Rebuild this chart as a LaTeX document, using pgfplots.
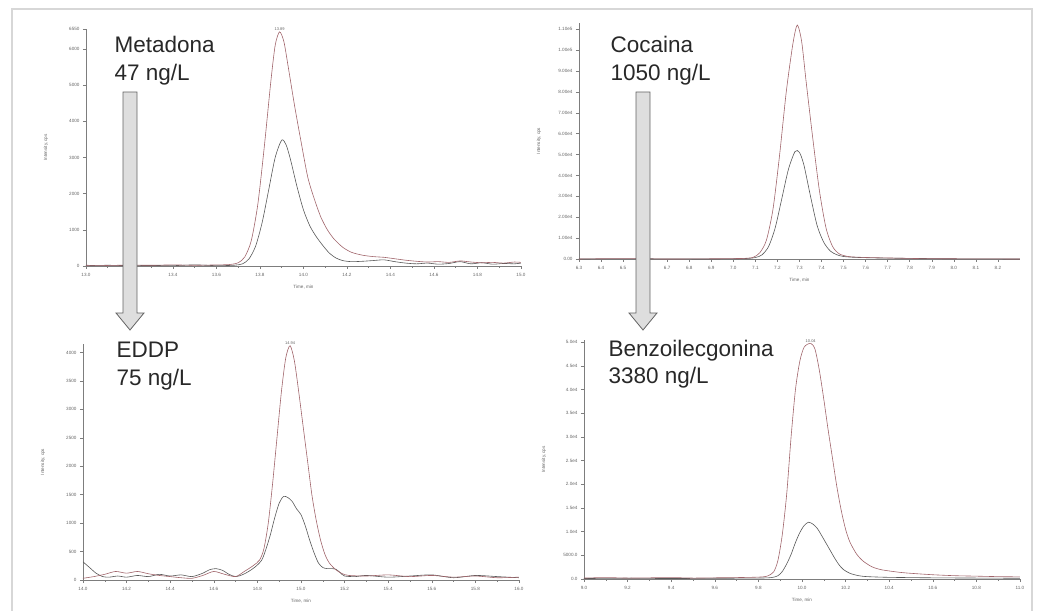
\documentclass[border=0pt]{standalone}
\usepackage{fontspec}
\setmainfont{Liberation Sans}
\usepackage{pgfplots}
\pgfplotsset{compat=1.18}

\definecolor{trred}{RGB}{160,100,106}
\definecolor{trgray}{RGB}{88,88,88}
\definecolor{axgray}{RGB}{125,125,125}
\definecolor{lblgray}{RGB}{100,100,100}
\definecolor{framegray}{RGB}{215,215,215}
\definecolor{arrowfill}{RGB}{222,222,222}
\definecolor{arrowline}{RGB}{100,100,100}
\definecolor{txt}{RGB}{40,40,40}

\pgfplotsset{
  chrom/.style={
    scale only axis,
    anchor=south west,
    axis lines=left,
    axis line style={-, draw=axgray, line width=0.8pt},
    tick style={draw=axgray, line width=0.5pt},
    tick align=outside,
    major tick length=3pt,
    minor tick length=1.6pt,
    scaled y ticks=false,
    scaled x ticks=false,
    tick label style={font=\fontsize{4.6}{5}\selectfont, text=lblgray},
    xticklabel style={yshift=-0.5pt},
    ymin=0,
    clip=false,
    every axis x label/.style={at={(axis description cs:0.5,0)}, yshift=-21pt,
      anchor=center, font=\fontsize{4.6}{5}\selectfont, text=lblgray},
    every axis y label/.style={at={(axis description cs:0,0.5)}, xshift=-40pt,
      rotate=90, anchor=center, font=\fontsize{4.6}{5}\selectfont, text=lblgray},
    xlabel={Time, min},
    ylabel={Intensity, cps},
    every axis plot/.append style={line width=0.6pt, smooth, tension=0.45},
  },
}
\tikzset{peaklbl/.style={font=\fontsize{4}{5}\selectfont, text=lblgray, anchor=south, inner sep=1pt}}

\newcommand{\drug}[3]{%
  \node[anchor=base west, text=txt, font=\fontsize{22.5}{27}\selectfont] at (#1,#2) {#3};}

\begin{document}
\begin{tikzpicture}
\useasboundingbox (0pt,0pt) rectangle (1040pt,610pt);
% slide frame
\draw[framegray, line width=1.5pt] (12pt,-5pt) -- (12pt,601pt) -- (1032pt,601pt) -- (1032pt,-5pt);

% ---------------- Metadona ----------------
\begin{axis}[chrom, at={(86pt,344pt)}, width=435pt, height=237pt,
  xmin=13.0, xmax=15.0, ymax=6550,
  xtick={13,13.2,13.4,13.6,13.8,14,14.2,14.4,14.6,14.8,15},
  xticklabels={13.0,13.2,13.4,13.6,13.8,14.0,14.2,14.4,14.6,14.8,15.0},
  minor x tick num=1,
  ytick={0,1000,2000,3000,4000,5000,6000,6550},
  yticklabels={0,1000,2000,3000,4000,5000,6000,6550}]
\addplot[trgray] coordinates {
 (13.00,10) (13.10,20) (13.20,10) (13.30,15) (13.40,10) (13.50,30) (13.60,10)
 (13.68,20) (13.72,60) (13.75,200) (13.78,550) (13.81,1200) (13.84,2100)
 (13.87,3000) (13.90,3480) (13.92,3350) (13.94,2950) (13.97,2200) (14.00,1550)
 (14.03,1100) (14.06,800) (14.09,560) (14.12,350) (14.15,220) (14.18,150)
 (14.22,120) (14.27,130) (14.32,150) (14.37,170) (14.42,120) (14.47,80)
 (14.52,60) (14.57,80) (14.62,50) (14.67,70) (14.72,120) (14.77,60)
 (14.82,90) (14.87,50) (14.92,70) (14.97,60) (15.00,80)};
\addplot[trred] coordinates {
 (13.00,20) (13.10,15) (13.20,25) (13.30,20) (13.40,30) (13.50,20) (13.60,30)
 (13.66,40) (13.70,90) (13.73,250) (13.76,700) (13.79,1700) (13.82,3300)
 (13.85,5100) (13.87,6100) (13.89,6470) (13.91,6200) (13.93,5500) (13.96,4400)
 (13.99,3400) (14.02,2450) (14.05,1850) (14.08,1350) (14.11,1000) (14.14,750)
 (14.18,520) (14.22,380) (14.27,300) (14.32,260) (14.37,240) (14.42,200)
 (14.47,160) (14.52,130) (14.57,110) (14.62,120) (14.67,100) (14.72,140)
 (14.77,110) (14.82,90) (14.87,100) (14.92,80) (14.97,110) (15.00,100)};
\node[peaklbl] at (axis cs:13.89,6470) {13.89};
\fill[black!80] (axis cs:13.0,2150) ++(-2.5pt,0) circle (1.3pt);
\end{axis}

% ---------------- Cocaina ----------------
\begin{axis}[chrom, at={(579pt,351pt)}, width=441pt, height=236pt,
  xmin=6.3, xmax=8.3, ymax=113000,
  xtick={6.3,6.4,6.5,6.6,6.7,6.8,6.9,7.0,7.1,7.2,7.3,7.4,7.5,7.6,7.7,7.8,7.9,8.0,8.1,8.2},
  xticklabels={6.3,6.4,6.5,6.6,6.7,6.8,6.9,7.0,7.1,7.2,7.3,7.4,7.5,7.6,7.7,7.8,7.9,8.0,8.1,8.2},
  ytick={0,10000,20000,30000,40000,50000,60000,70000,80000,90000,100000,110000},
  yticklabels={0.00,1.00e4,2.00e4,3.00e4,4.00e4,5.00e4,6.00e4,7.00e4,8.00e4,9.00e4,1.00e5,1.10e5}]
\addplot[trgray] coordinates {
 (6.30,0) (6.60,100) (6.90,0) (7.05,200) (7.10,700) (7.13,2000) (7.16,6000)
 (7.19,15000) (7.22,29000) (7.25,43000) (7.28,51500) (7.30,51000) (7.32,45000)
 (7.35,30000) (7.38,16000) (7.41,8000) (7.44,3800) (7.47,2000) (7.50,1200)
 (7.55,800) (7.65,500) (7.80,300) (8.00,100) (8.30,0)};
\addplot[trred] coordinates {
 (6.30,0) (6.50,200) (6.70,0) (6.90,100) (7.00,200) (7.05,300) (7.09,800)
 (7.12,3000) (7.15,9000) (7.18,24000) (7.21,50000) (7.24,80000) (7.27,103000)
 (7.29,112000) (7.31,104000) (7.33,85000) (7.36,58000) (7.39,33000) (7.42,15000)
 (7.45,6000) (7.48,2500) (7.52,1200) (7.58,800) (7.65,600) (7.75,400)
 (7.85,200) (8.00,100) (8.15,50) (8.30,0)};
\fill[black!80] (axis cs:6.3,37000) ++(-2.5pt,0) circle (1.3pt);
\end{axis}

% ---------------- EDDP ----------------
\begin{axis}[chrom, at={(83pt,30pt)}, width=436pt, height=236pt,
  xmin=14.0, xmax=16.0, ymax=4150,
  xtick={14,14.2,14.4,14.6,14.8,15,15.2,15.4,15.6,15.8,16},
  xticklabels={14.0,14.2,14.4,14.6,14.8,15.0,15.2,15.4,15.6,15.8,16.0},
  minor x tick num=1,
  ytick={0,500,1000,1500,2000,2500,3000,3500,4000},
  yticklabels={0,500,1000,1500,2000,2500,3000,3500,4000}]
\addplot[trgray] coordinates {
 (14.00,320) (14.03,220) (14.06,120) (14.09,60) (14.12,50) (14.16,70) (14.20,50)
 (14.25,80) (14.30,60) (14.35,100) (14.40,70) (14.45,90) (14.50,60) (14.55,120)
 (14.58,180) (14.61,200) (14.64,170) (14.67,100) (14.70,60) (14.73,90)
 (14.76,150) (14.79,230) (14.82,350) (14.84,550) (14.86,800) (14.88,1100)
 (14.90,1350) (14.92,1470) (14.94,1450) (14.96,1380) (14.98,1250) (15.00,1150)
 (15.02,950) (15.04,700) (15.06,480) (15.08,300) (15.10,220) (15.12,200)
 (15.14,200) (15.16,190) (15.18,130) (15.20,70) (15.25,60) (15.30,80)
 (15.40,50) (15.50,70) (15.60,90) (15.70,40) (15.80,80) (15.90,60) (16.00,40)};
\addplot[trred] coordinates {
 (14.00,30) (14.05,60) (14.10,100) (14.15,150) (14.20,120) (14.25,150)
 (14.30,110) (14.35,80) (14.40,60) (14.45,40) (14.50,30) (14.55,80) (14.60,150)
 (14.65,100) (14.70,60) (14.74,150) (14.78,250) (14.81,350) (14.83,550)
 (14.85,1000) (14.87,1700) (14.89,2500) (14.91,3300) (14.93,3900) (14.95,4120)
 (14.97,3850) (14.99,3300) (15.01,2700) (15.03,2100) (15.05,1500) (15.07,1050)
 (15.09,700) (15.11,450) (15.13,300) (15.16,180) (15.19,110) (15.22,80)
 (15.30,70) (15.40,90) (15.50,60) (15.60,80) (15.70,50) (15.80,70) (15.90,40)
 (16.00,50)};
\node[peaklbl] at (axis cs:14.95,4120) {14.94};
\fill[black!80] (axis cs:14.0,1550) ++(-2.5pt,0) circle (1.3pt);
\end{axis}

% ---------------- Benzoilecgonina ----------------
\begin{axis}[chrom, at={(584pt,31pt)}, width=436pt, height=239pt,
  xmin=9.0, xmax=11.0, ymax=50500,
  xtick={9,9.2,9.4,9.6,9.8,10,10.2,10.4,10.6,10.8,11},
  xticklabels={9.0,9.2,9.4,9.6,9.8,10.0,10.2,10.4,10.6,10.8,11.0},
  minor x tick num=1,
  ytick={0,5000,10000,15000,20000,25000,30000,35000,40000,45000,50000},
  yticklabels={0.0,5000.0,1.0e4,1.5e4,2.0e4,2.5e4,3.0e4,3.5e4,4.0e4,4.5e4,5.0e4}]
\addplot[trgray] coordinates {
 (9.00,100) (9.20,150) (9.40,100) (9.60,150) (9.80,200) (9.86,300) (9.89,700)
 (9.91,1600) (9.93,3200) (9.95,5200) (9.97,7700) (9.99,9800) (10.01,11300)
 (10.03,12000) (10.05,11600) (10.07,10700) (10.09,9200) (10.11,7600)
 (10.13,6000) (10.15,4400) (10.17,3000) (10.19,2000) (10.22,1200) (10.26,700)
 (10.30,500) (10.40,350) (10.60,250) (10.80,200) (11.00,150)};
\addplot[trred] coordinates {
 (9.00,200) (9.10,300) (9.20,200) (9.30,250) (9.40,300) (9.50,200) (9.60,250)
 (9.70,300) (9.80,400) (9.84,600) (9.87,1500) (9.89,4000) (9.91,9500)
 (9.93,18000) (9.95,30000) (9.97,40000) (9.99,46000) (10.01,49000)
 (10.04,49800) (10.06,48500) (10.08,44000) (10.10,38000) (10.12,31500)
 (10.14,25500) (10.16,19500) (10.18,14500) (10.20,10500) (10.22,7800)
 (10.25,5300) (10.28,3800) (10.32,2600) (10.36,2000) (10.40,1700)
 (10.45,1400) (10.50,1200) (10.60,900) (10.70,700) (10.80,600) (10.90,500)
 (11.00,450)};
\node[peaklbl] at (axis cs:10.04,49800) {10.04};
\fill[black!80] (axis cs:9.0,17000) ++(-2.5pt,0) circle (1.3pt);
\end{axis}

% block arrows
\draw[arrowline, fill=arrowfill, line width=0.8pt, line join=miter]
  (123pt,518pt) -- (137pt,518pt) -- (137pt,297pt) -- (144pt,297pt) -- (130pt,280pt)
  -- (116pt,297pt) -- (123pt,297pt) -- cycle;
\draw[arrowline, fill=arrowfill, line width=0.8pt, line join=miter]
  (636pt,518pt) -- (650pt,518pt) -- (650pt,297pt) -- (657pt,297pt) -- (643pt,280pt)
  -- (629pt,297pt) -- (636pt,297pt) -- cycle;

% compound names
\drug{111pt}{557pt}{Metadona}
\drug{111pt}{529pt}{47 ng/L}
\drug{607pt}{557pt}{Cocaina}
\drug{607pt}{529pt}{1050 ng/L}
\drug{113pt}{252pt}{EDDP}
\drug{113pt}{224pt}{75 ng/L}
\drug{605pt}{253pt}{Benzoilecgonina}
\drug{605pt}{226pt}{3380 ng/L}
\end{tikzpicture}
\end{document}
